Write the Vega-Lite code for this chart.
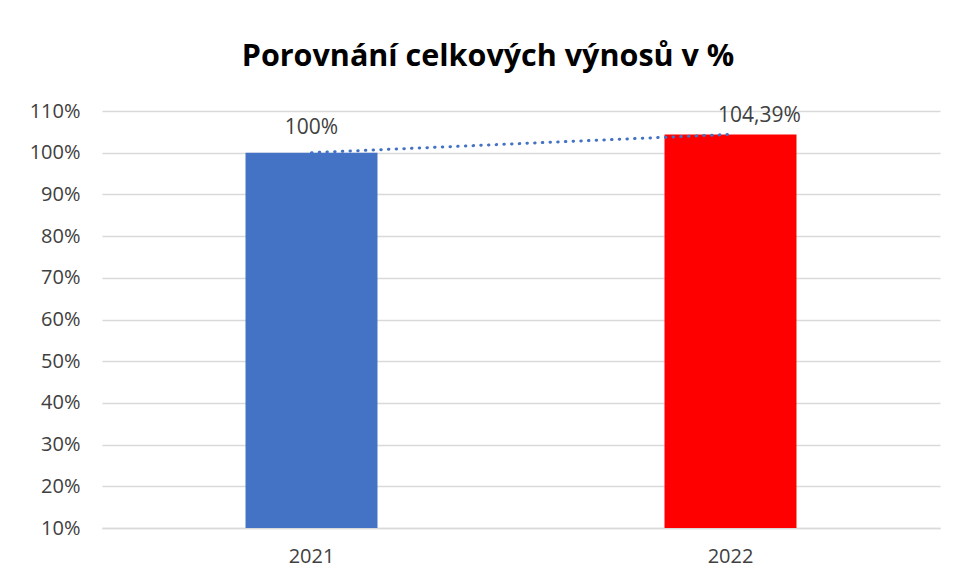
{
  "$schema": "https://vega.github.io/schema/vega-lite/v6.json",
  "width": 838,
  "height": 417,
  "autosize": {"type": "none"},
  "padding": {"left": 102, "top": 111, "right": 18, "bottom": 54},
  "background": "#ffffff",
  "config": {
    "locale": {"number": {"decimal": ",", "thousands": "\u00a0", "grouping": [3], "currency": ["", " Kč"]}},
    "view": {"stroke": null},
    "font": "Open Sans"
  },
  "title": {
    "text": "Porovnání celkových výnosů v %",
    "font": "Open Sans",
    "fontSize": 30.5,
    "fontWeight": "bold",
    "color": "#000000",
    "anchor": "middle",
    "dx": -33,
    "offset": 29
  },
  "data": {"values": [
    {"rok": "2021", "hodnota": 1.0},
    {"rok": "2022", "hodnota": 1.0439}
  ]},
  "encoding": {
    "x": {
      "field": "rok",
      "type": "nominal",
      "scale": {"paddingInner": 0, "paddingOuter": 0},
      "axis": {
        "title": null,
        "labelAngle": 0,
        "labelFont": "Open Sans",
        "labelFontSize": 20,
        "labelColor": "#404040",
        "labelPadding": 18,
        "ticks": false,
        "domain": true,
        "domainColor": "#D9D9D9",
        "domainWidth": 1.5,
        "grid": false
      }
    }
  },
  "layer": [
    {
      "mark": {"type": "bar", "width": {"band": 0.315}},
      "encoding": {
        "y": {
          "field": "hodnota",
          "type": "quantitative",
          "scale": {"domain": [0.1, 1.1], "zero": false, "nice": false},
          "axis": {
            "title": null,
            "format": ".0%",
            "values": [0.1, 0.2, 0.3, 0.4, 0.5, 0.6, 0.7, 0.8, 0.9, 1.0, 1.1],
            "labelFont": "Open Sans",
            "labelFontSize": 20,
            "labelColor": "#404040",
            "labelPadding": 22,
            "ticks": false,
            "domain": false,
            "grid": true,
            "gridColor": "#D9D9D9",
            "gridWidth": 1.5
          }
        },
        "y2": {"datum": 0.1},
        "color": {
          "field": "rok",
          "type": "nominal",
          "scale": {"domain": ["2021", "2022"], "range": ["#4472C4", "#FF0000"]},
          "legend": null
        }
      }
    },
    {
      "mark": {"type": "line", "color": "#4472C4", "strokeWidth": 3, "strokeDash": [0.5, 7.2], "strokeCap": "round"},
      "encoding": {
        "y": {"field": "hodnota", "type": "quantitative"}
      }
    },
    {
      "transform": [{"filter": "datum.rok == '2021'"}],
      "mark": {"type": "text", "font": "Open Sans", "fontSize": 21, "color": "#404040", "dy": -25, "baseline": "middle"},
      "encoding": {
        "y": {"field": "hodnota", "type": "quantitative"},
        "text": {"field": "hodnota", "type": "quantitative", "format": ".2~%"}
      }
    },
    {
      "transform": [{"filter": "datum.rok == '2022'"}],
      "mark": {"type": "text", "font": "Open Sans", "fontSize": 21, "color": "#404040", "dx": 29, "dy": -18, "baseline": "middle"},
      "encoding": {
        "y": {"field": "hodnota", "type": "quantitative"},
        "text": {"field": "hodnota", "type": "quantitative", "format": ".2~%"}
      }
    }
  ]
}
